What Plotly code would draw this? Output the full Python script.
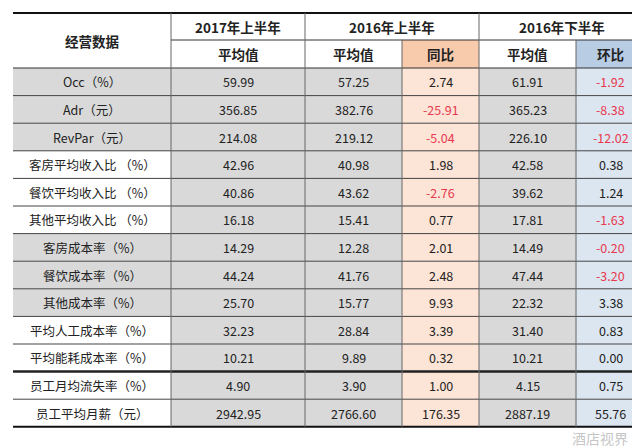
import plotly.graph_objects as go

# table data
metrics = ["Occ（%）", "Adr（元）", "RevPar（元）", "客房平均收入比 （%）", "餐饮平均收入比 （%）",
           "其他平均收入比 （%）", "客房成本率（%）", "餐饮成本率（%）", "其他成本率（%）",
           "平均人工成本率（%）", "平均能耗成本率（%）", "员工月均流失率（%）", "员工平均月薪（元）"]
avg_2017h1 = ["59.99", "356.85", "214.08", "42.96", "40.86", "16.18", "14.29", "44.24", "25.70",
              "32.23", "10.21", "4.90", "2942.95"]
avg_2016h1 = ["57.25", "382.76", "219.12", "40.98", "43.62", "15.41", "12.28", "41.76", "15.77",
              "28.84", "9.89", "3.90", "2766.60"]
yoy = ["2.74", "-25.91", "-5.04", "1.98", "-2.76", "0.77", "2.01", "2.48", "9.93",
       "3.39", "0.32", "1.00", "176.35"]
avg_2016h2 = ["61.91", "365.23", "226.10", "42.58", "39.62", "17.81", "14.49", "47.44", "22.32",
              "31.40", "10.21", "4.15", "2887.19"]
mom = ["-1.92", "-8.38", "-12.02", "0.38", "1.24", "-1.63", "-0.20", "-3.20", "3.38",
       "0.83", "0.00", "0.75", "55.76"]
grey_label = [True, True, True, False, False, False, True, True, True, False, False, False, False]

# layout geometry
xs = [5, 163, 297, 394, 471, 568, 637]
y_top, y_mid, y_head = 5, 32, 60
row_h = 27.6
GREY, ORANGE, BLUE = "#d9d9d9", "#fce4d6", "#dce6f1"
ORANGE_H, BLUE_H = "#f8cbad", "#b8cce4"
RED = "#e8384f"
FONT = "Noto Sans CJK SC"

shapes, annos = [], []


def rect(x0, x1, y0, y1, color):
    shapes.append(dict(type="rect", x0=x0, x1=x1, y0=y0, y1=y1, fillcolor=color,
                       line=dict(width=0), layer="below"))


def line(x0, x1, y0, y1, w=1, c="#333333"):
    shapes.append(dict(type="line", x0=x0, x1=x1, y0=y0, y1=y1, line=dict(width=w, color=c)))


def text(x, y, s, color="#222222", size=12.5):
    annos.append(dict(x=x, y=y, text=s, showarrow=False, font=dict(family=FONT, size=size, color=color)))


# header
rect(xs[3], xs[4], y_mid, y_head, ORANGE_H)
rect(xs[5], xs[6], y_mid, y_head, BLUE_H)
text((xs[0] + xs[1]) / 2, (y_top + y_head) / 2, "<b>经营数据</b>", size=13.5)
for (a, b), s in zip([(1, 2), (2, 4), (4, 6)], ["2017年上半年", "2016年上半年", "2016年下半年"]):
    text((xs[a] + xs[b]) / 2, (y_top + y_mid) / 2, "<b>%s</b>" % s, size=13.5)
for i, s in enumerate(["平均值", "平均值", "同比", "平均值", "环比"]):
    text((xs[i + 1] + xs[i + 2]) / 2, (y_mid + y_head) / 2, "<b>%s</b>" % s, size=13.5)

# body
cols = [avg_2017h1, avg_2016h1, yoy, avg_2016h2, mom]
fills = [GREY, GREY, ORANGE, GREY, BLUE]
for r, name in enumerate(metrics):
    y0 = y_head + r * row_h
    y1 = y0 + row_h
    yc = (y0 + y1) / 2
    if grey_label[r]:
        rect(xs[0], xs[1], y0, y1, GREY)
    text((xs[0] + xs[1]) / 2, yc, name)
    for c, vals in enumerate(cols):
        rect(xs[c + 1], xs[c + 2], y0, y1, fills[c])
        v = vals[r]
        color = RED if v.startswith("-") and c in (2, 4) else "#222222"
        text((xs[c + 1] + xs[c + 2]) / 2, yc, v, color=color)

y_end = y_head + len(metrics) * row_h

# grid lines
for r in range(1, len(metrics)):
    y = y_head + r * row_h
    line(xs[0], xs[6], y, y, w=2.5 if r == 11 else 1, c="#222222" if r == 11 else "#444444")
line(xs[0], xs[6], y_top, y_top, w=2, c="#111111")
line(xs[0], xs[6], y_head, y_head, w=1.2)
line(xs[0], xs[6], y_end, y_end, w=2, c="#111111")
line(xs[1], xs[6], y_mid, y_mid, w=1)
for i in range(1, 6):
    y_start = y_mid if i in (3, 5) else y_top
    line(xs[i], xs[i], y_start, y_end, w=1, c="#666666")

# watermark
text(592, 430, "酒店视界", color="rgba(190,190,190,0.9)", size=14)

fig = go.Figure()
fig.add_trace(go.Scatter(x=[0, 640], y=[0, 447], mode="markers", marker=dict(opacity=0),
                         hoverinfo="skip", showlegend=False))
fig.update_layout(
    width=640, height=447, margin=dict(l=0, r=0, t=0, b=0),
    plot_bgcolor="white", paper_bgcolor="white",
    xaxis=dict(range=[0, 640], visible=False, fixedrange=True),
    yaxis=dict(range=[447, 0], visible=False, fixedrange=True),
    shapes=shapes, annotations=annos,
)
fig.write_html("out.html")
